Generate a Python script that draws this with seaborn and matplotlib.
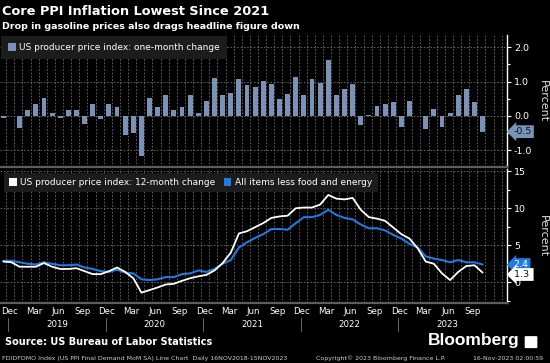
import numpy as np
import pandas as pd
import matplotlib
matplotlib.use("Agg")
import matplotlib.pyplot as plt
import matplotlib.transforms as mtransforms
from matplotlib.patches import Patch, FancyBboxPatch
from matplotlib.ticker import MultipleLocator, FixedLocator
import seaborn as sns

# monthly data, Nov 2018 .. Oct 2023
months = pd.date_range("2018-11-01", periods=60, freq="MS")

mom_change = [-0.07, 0.0, -0.34, 0.17, 0.35, 0.52, 0.09, -0.07, 0.17, 0.17,
              -0.25, 0.35, -0.08, 0.35, 0.27, -0.57, -0.49, -1.18, 0.52, 0.27,
              0.61, 0.17, 0.27, 0.6, 0.09, 0.43, 1.12, 0.6, 0.67, 1.08,
              0.9, 0.83, 1.02, 0.93, 0.5, 0.63, 1.13, 0.61, 1.08, 0.95,
              1.63, 0.61, 0.78, 0.93, -0.28, 0.03, 0.3, 0.34, 0.41, -0.31,
              0.44, -0.01, -0.38, 0.2, -0.31, 0.09, 0.61, 0.79, 0.41, -0.46]

ppi_12m = [2.8, 2.7, 2.1, 2.1, 2.1, 2.6, 2.1, 1.8, 1.8, 1.9,
           1.5, 1.1, 1.1, 1.5, 2.0, 1.4, 0.55, -1.4, -1.05, -0.7,
           -0.3, -0.2, 0.2, 0.55, 0.8, 1.0, 1.6, 2.6, 4.0, 6.6,
           6.9, 7.45, 8.0, 8.7, 8.9, 9.0, 10.0, 10.1, 10.1, 10.5,
           11.8, 11.3, 11.2, 11.4, 9.8, 8.8, 8.6, 8.3, 7.4, 6.5,
           5.9, 4.6, 2.8, 2.5, 1.2, 0.3, 1.4, 2.2, 2.3, 1.3]

core_12m = [2.9, 2.9, 2.7, 2.5, 2.4, 2.7, 2.5, 2.3, 2.3, 2.4,
            2.0, 1.8, 1.5, 1.4, 1.7, 1.3, 1.2, 0.4, 0.3, 0.4,
            0.7, 0.7, 1.1, 1.2, 1.6, 1.4, 1.8, 2.5, 3.0, 4.7,
            5.4, 6.0, 6.5, 7.2, 7.2, 7.1, 8.0, 8.8, 8.8, 9.1,
            9.8, 9.1, 8.7, 8.5, 7.8, 7.3, 7.3, 7.0, 6.4, 5.9,
            5.2, 4.7, 3.5, 3.2, 3.0, 2.7, 3.0, 2.7, 2.7, 2.4]

years = ["2019", "2020", "2021", "2022", "2023"]

BAR = "#7a91b8"
BLUE = "#1f7be0"
GRID = "#6e6e6e"

df = pd.DataFrame({"pos": np.arange(len(months)), "month": months,
                   "mom": mom_change, "ppi": ppi_12m, "core": core_12m})

sns.set_style("dark")
plt.rcParams["font.family"] = ["DejaVu Sans"]
plt.rcParams["axes.unicode_minus"] = False

fig = plt.figure(figsize=(5.5, 3.63), dpi=100, facecolor="black")
ax1 = fig.add_axes([0, 0.540, 0.9218, 0.3636])
ax2 = fig.add_axes([0, 0.1653, 0.9218, 0.369])

sns.barplot(data=df, x="pos", y="mom", native_scale=True, width=0.6,
            color=BAR, saturation=1, ax=ax1, zorder=3,
            edgecolor="none", linewidth=0)
sns.lineplot(data=df, x="pos", y="core", color=BLUE, lw=1.5, ax=ax2, zorder=3)
sns.lineplot(data=df, x="pos", y="ppi", color="white", lw=1.3, ax=ax2, zorder=4)

grid_pos = np.arange(-1, 63) + 0.35
for ax in (ax1, ax2):
    ax.set_facecolor("black")
    ax.set_xlim(-0.41, 62.0)
    ax.set_xlabel("")
    ax.set_ylabel("")
    for s in ("top", "left"):
        ax.spines[s].set_visible(False)
    ax.spines["right"].set_color("white")
    ax.spines["right"].set_linewidth(1.0)
    ax.spines["bottom"].set_color("#5c5c5c")
    ax.spines["bottom"].set_linewidth(1.6)
    ax.yaxis.tick_right()
    ax.xaxis.set_minor_locator(FixedLocator(grid_pos))
    ax.grid(False)
    ax.grid(which="minor", axis="x", color=GRID, lw=0.6, ls=(0, (2, 2)), zorder=0)
    ax.grid(which="major", axis="y", color=GRID, lw=0.6, ls=(0, (2, 2)), zorder=0)
    ax.tick_params(axis="y", which="major", colors="white", labelsize=6.8,
                   length=3, width=0.8, pad=2, direction="out")
    ax.tick_params(axis="y", which="minor", colors="white", length=2,
                   width=0.8, direction="out")
    ax.tick_params(axis="x", which="minor", colors="#888888", length=2.5,
                   width=0.6, direction="out")

# top panel
ax1.set_ylim(-1.49, 2.36)
ax1.yaxis.set_major_locator(MultipleLocator(1.0))
ax1.yaxis.set_minor_locator(MultipleLocator(0.5))
ax1.yaxis.set_major_formatter(matplotlib.ticker.FormatStrFormatter("%.1f"))
ax1.set_xticks([])
ax1.tick_params(axis="x", which="minor", length=0)

# bottom panel
ax2.set_ylim(-2.8, 15.3)
ax2.yaxis.set_major_locator(MultipleLocator(5))
ax2.yaxis.set_minor_locator(MultipleLocator(2.5))

tick_pos, tick_lab = [], []
for i, m in enumerate(months):
    if m.month in (12, 3, 6, 9):
        tick_pos.append(i - 0.25)
        tick_lab.append(m.strftime("%b"))
ax2.set_xticks(tick_pos)
ax2.set_xticklabels(tick_lab)
ax2.tick_params(axis="x", which="major", length=0, colors="white",
                labelsize=6.2, pad=3)

xt = ax2.get_xaxis_transform()
for k, y in enumerate(years):
    ax2.text(6.6 + 12 * k, -0.16, y, transform=xt, ha="center", va="center",
             color="white", fontsize=6.2)
    ax2.plot([0.6 + 12 * k] * 2, [-0.11, -0.21], transform=xt, color="#7a7a7a",
             lw=0.6, clip_on=False)

# legends
leg_kw = dict(loc="upper left", bbox_to_anchor=(0, 1), fontsize=6.5,
              labelcolor="white", facecolor="#1c1c1c", edgecolor="none",
              framealpha=1, fancybox=False, handlelength=0.85,
              handleheight=0.85, handletextpad=0.4)
leg1 = ax1.legend(handles=[Patch(facecolor=BAR, edgecolor="none")],
                  labels=["US producer price index: one-month change"],
                  borderaxespad=0.15, borderpad=0.75, **leg_kw)
leg1.set_zorder(6)
leg2 = ax2.legend(handles=[Patch(facecolor="white", edgecolor="none"),
                           Patch(facecolor=BLUE, edgecolor="none")],
                  labels=["US producer price index: 12-month change",
                          "All items less food and energy"],
                  borderaxespad=0.4, ncol=2, columnspacing=0.9,
                  borderpad=0.6, **leg_kw)
leg2.set_zorder(6)

# last value tags
t1 = mtransforms.blended_transform_factory(ax1.transAxes, ax1.transData)
ax1.text(1.013, mom_change[-1], "-0.5", transform=t1, ha="left", va="center",
         fontsize=6.8, color="#101010", clip_on=False, zorder=10,
         bbox=dict(boxstyle="larrow,pad=0.2", fc=BAR, ec="none"))
t2 = mtransforms.blended_transform_factory(ax2.transAxes, ax2.transData)
ax2.text(1.013, core_12m[-1], "2.4", transform=t2, ha="left", va="center",
         fontsize=6.8, color="white", clip_on=False, zorder=10,
         bbox=dict(boxstyle="larrow,pad=0.2", fc=BLUE, ec="none"))
ax2.text(1.013, ppi_12m[-1] - 0.25, "1.3 ", transform=t2, ha="left", va="center",
         fontsize=6.8, color="#101010", clip_on=False, zorder=11,
         bbox=dict(boxstyle="larrow,pad=0.2", fc="white", ec="none"))

# axis titles
for ax in (ax1, ax2):
    pos = ax.get_position()
    fig.text(0.987, pos.y0 + pos.height / 2, "Percent", rotation=270,
             ha="center", va="center", color="#e0e0e0", fontsize=8)

# header / footer
fig.text(0.004, 0.967, "Core PPI Inflation Lowest Since 2021", color="white",
         fontsize=9.3, fontweight="bold", ha="left", va="center")
fig.text(0.004, 0.928, "Drop in gasoline prices also drags headline figure down",
         color="white", fontsize=6.8, fontweight="bold", ha="left", va="center")
fig.text(0.009, 0.058, "Source: US Bureau of Labor Statistics", color="white",
         fontsize=7, fontweight="bold", ha="left", va="center")
fig.text(0.945, 0.062, "Bloomberg", color="white", fontsize=12.5,
         ha="right", va="center", family=["Liberation Sans", "DejaVu Sans"],
         fontweight="bold")
fig.patches.append(FancyBboxPatch((0.956, 0.043), 0.019, 0.029,
                                  boxstyle="round,pad=0.002", fc="white",
                                  ec="none", transform=fig.transFigure))
fig.text(0.003, 0.012,
         "FDIDFDMO Index (US PPI Final Demand MoM SA) Line Chart  Daily 16NOV2018-15NOV2023",
         color="#cfcfcf", fontsize=4.5, ha="left", va="center")
fig.text(0.692, 0.012, "Copyright\u00a9 2023 Bloomberg Finance L.P.",
         color="#cfcfcf", fontsize=4.5, ha="center", va="center")
fig.text(0.988, 0.012, "16-Nov-2023 02:00:59", color="#cfcfcf", fontsize=4.5,
         ha="right", va="center")

fig.savefig("out.png", dpi=100, facecolor="black")
